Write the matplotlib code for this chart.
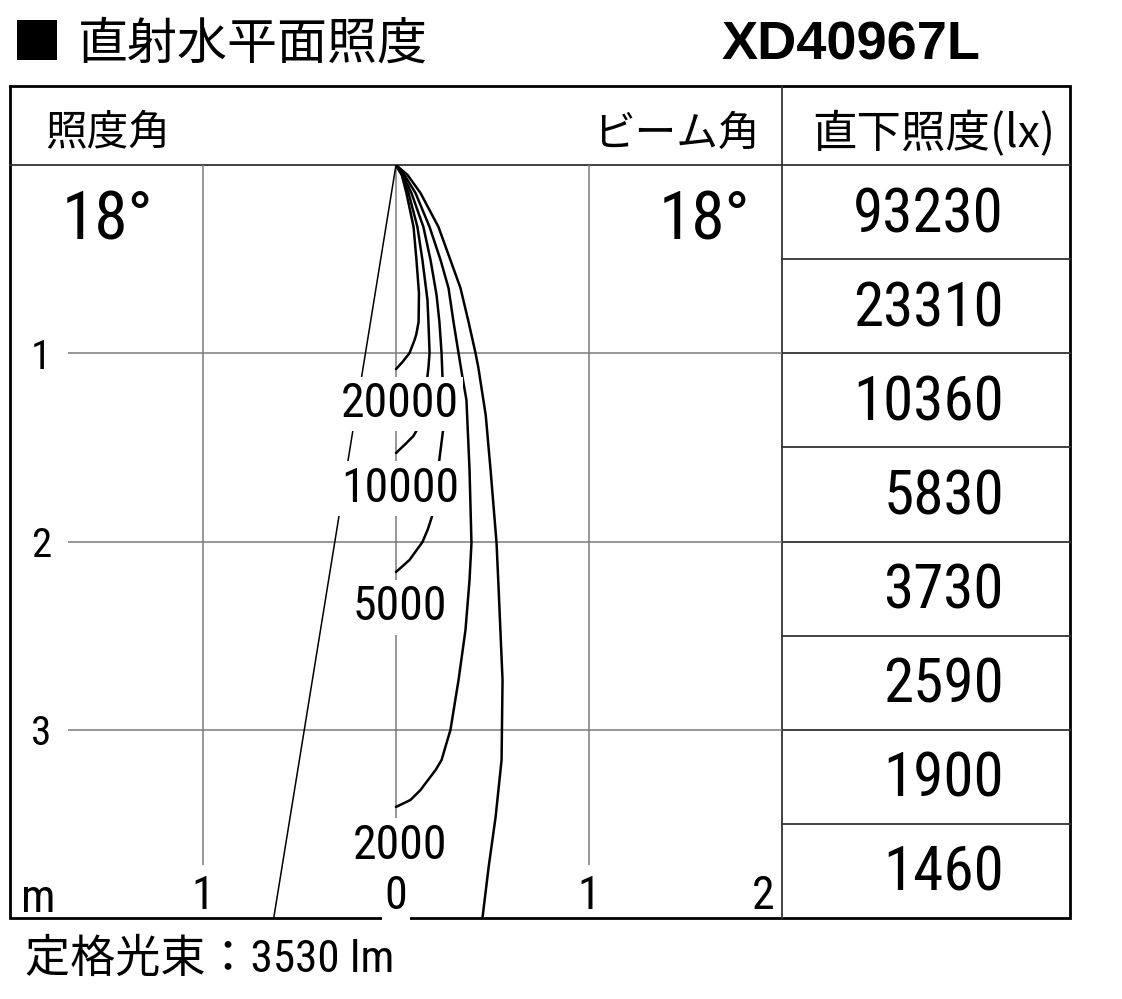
import matplotlib
matplotlib.use("Agg")
import matplotlib.pyplot as plt
import numpy as np

# ---------------- data ----------------
title_text = "直射水平面照度"
model_text = "XD40967L"
flux_text = "定格光束：3530 lm"
header_left = "照度角"
header_mid = "ビーム角"
header_right = "直下照度(lx)"
illum_angle = 18
beam_angle = 18

depths = [0.5, 1.0, 1.5, 2.0, 2.5, 3.0, 3.5, 4.0]
center_lux = [93230, 23310, 10360, 5830, 3730, 2590, 1900, 1460]

y_ticks = [1, 2, 3]
x_label_pos = [-1, 0, 1, 1.9]
x_tick_labels = ["1", "0", "1", "2"]

iso_labels = ["20000", "10000", "5000", "2000"]
iso_label_x = [0.018, 0.024, 0.022, 0.022]
iso_label_y = [1.27, 1.72, 2.35, 3.615]

iso_20000_x = [0, 0.030, 0.054, 0.091, 0.106, 0.119, 0.117, 0.105, 0.096, 0.070, 0.034, 0]
iso_20000_y = [0, 0.053, 0.149, 0.329, 0.505, 0.680, 0.834, 0.900, 0.930, 0.999, 1.046, 1.084]

iso_10000_x = [0, 0.031, 0.065, 0.111, 0.137, 0.163, 0.168, 0.174, 0.168, 0.150, 0.117, 0.090, 0.054, 0]
iso_10000_y = [0, 0.053, 0.149, 0.329, 0.505, 0.717, 0.834, 0.999, 1.078, 1.230, 1.392, 1.440, 1.477, 1.530]

iso_5000_x = [0, 0.036, 0.080, 0.142, 0.179, 0.210, 0.225, 0.236, 0.241, 0.246, 0.225, 0.194, 0.165,
              0.137, 0.070, 0]
iso_5000_y = [0, 0.053, 0.149, 0.329, 0.505, 0.690, 0.834, 0.999, 1.131, 1.392, 1.562, 1.843, 1.935,
              2.003, 2.098, 2.162]

iso_2000_x = [0, 0.044, 0.101, 0.174, 0.231, 0.272, 0.298, 0.324, 0.345, 0.365, 0.381, 0.391,
              0.381, 0.360, 0.324, 0.282, 0.236, 0.205, 0.127, 0.075, 0]
iso_2000_y = [0, 0.053, 0.149, 0.329, 0.505, 0.653, 0.834, 0.999, 1.131, 1.248, 1.620, 2.008,
              2.205, 2.470, 2.736, 3.001, 3.161, 3.214, 3.320, 3.373, 3.410]

iso_1000_x = [0, 0.060, 0.127, 0.220, 0.282, 0.334, 0.376, 0.412, 0.427, 0.465, 0.490, 0.521, 0.532,
              0.552, 0.547, 0.516, 0.480, 0.448]
iso_1000_y = [0, 0.053, 0.149, 0.329, 0.505, 0.653, 0.834, 0.999, 1.078, 1.330, 1.620, 2.008, 2.258,
              2.736, 3.161, 3.464, 3.729, 4.000]

iso_x = [iso_20000_x, iso_10000_x, iso_5000_x, iso_2000_x, iso_1000_x]
iso_y = [iso_20000_y, iso_10000_y, iso_5000_y, iso_2000_y, iso_1000_y]

# ---------------- fonts ----------------
NUMF = "Roboto Condensed"
CJK = "Noto Sans CJK JP"
FAM_NUM = [NUMF, CJK, "DejaVu Sans"]
FAM_CJK = [CJK, "DejaVu Sans"]
FAM_MIX = [NUMF, CJK, "DejaVu Sans"]

# ---------------- figure ----------------
W, H = 1122, 999
fig = plt.figure(figsize=(W / 100, H / 100), dpi=100)
fig.patch.set_facecolor("white")

ov = fig.add_axes([0, 0, 1, 1])
ov.set_xlim(0, W)
ov.set_ylim(H, 0)
ov.axis("off")

PL, PR, PT, PB = 10, 782, 165, 918
ax = fig.add_axes([PL / W, (H - PB) / H, (PR - PL) / W, (PB - PT) / H])
ax.set_xlim(-2, 2)
ax.set_ylim(4, 0)
ax.axis("off")
ax.patch.set_alpha(0)

def ypix(d):
    return PT + d / 4.0 * (PB - PT)

# frame / table
ov.plot([10, 1070, 1070, 10, 10], [86, 86, 918, 918, 86], color="black", lw=2.0,
        solid_joinstyle="miter")
ov.plot([10, 1070], [165, 165], color="#333333", lw=1.3)
ov.plot([782, 782], [86, 918], color="#333333", lw=1.3)
for d in depths[:-1]:
    ov.plot([782, 1070], [ypix(d), ypix(d)], color="#333333", lw=1.3)

# grid
gc = "#7a7a7a"
ax.vlines([-1, 0, 1], 0, 3.72, color=gc, lw=1.1, zorder=1)
ax.hlines(y_ticks, -1.70, 2, color=gc, lw=1.1, zorder=1)

# beam line (half beam angle to the left)
half = np.deg2rad(beam_angle / 2.0)
ax.plot([0, -4 * np.tan(half)], [0, 4], color="black", lw=1.1, zorder=2)

# isolux curves
for xs, ys in zip(iso_x, iso_y):
    ax.plot(xs, ys, color="black", lw=1.8, zorder=2, solid_capstyle="round",
            solid_joinstyle="round")

for lab, lx, ly in zip(iso_labels, iso_label_x, iso_label_y):
    ax.text(lx, ly, lab, ha="center", va="center", fontsize=34.5, family=FAM_NUM,
            zorder=3, bbox=dict(facecolor="white", edgecolor="none", pad=3))

# axis labels
for t in y_ticks:
    ax.text(-1.84, t + 0.02, str(t), ha="center", va="center", fontsize=29.5, family=FAM_NUM)
for xp, lab in zip(x_label_pos, x_tick_labels):
    ax.text(xp, 3.885, lab, ha="center", va="center", fontsize=33, family=FAM_NUM, zorder=3,
            bbox=dict(facecolor="white", edgecolor="none", pad=2) if xp == 0 else None)
ax.text(-1.852, 3.90, "m", ha="center", va="center", fontsize=33, family=FAM_NUM)

# header texts
ov.text(45, 134, header_left, ha="left", va="center", fontsize=30, family=FAM_CJK)
ov.text(760, 134, header_mid, ha="right", va="center", fontsize=30, family=FAM_CJK)
ov.text(934, 134, header_right, ha="center", va="center", fontsize=32, family=FAM_CJK)

ov.text(62, 222, f"{illum_angle}°", ha="left", va="center", fontsize=48.5, family=FAM_NUM)
ov.text(750, 222, f"{beam_angle}°", ha="right", va="center", fontsize=48.5, family=FAM_NUM)

for d, v in zip(depths, center_lux):
    ov.text(1004, ypix(d - 0.25) + 3, str(v), ha="right", va="center", fontsize=44,
            family=FAM_NUM)

# title
ov.text(12, 45, "■", ha="left", va="center", fontsize=36, family=FAM_CJK)
ov.text(78, 45, title_text, ha="left", va="center", fontsize=36, family=FAM_CJK)
ov.text(722, 45, model_text, ha="left", va="center", fontsize=39, family="Liberation Sans",
        weight="bold")

# footer
ov.text(25, 960, flux_text, ha="left", va="center", fontsize=32.5, family=FAM_MIX)

fig.savefig("out.png", dpi=100, facecolor="white")
